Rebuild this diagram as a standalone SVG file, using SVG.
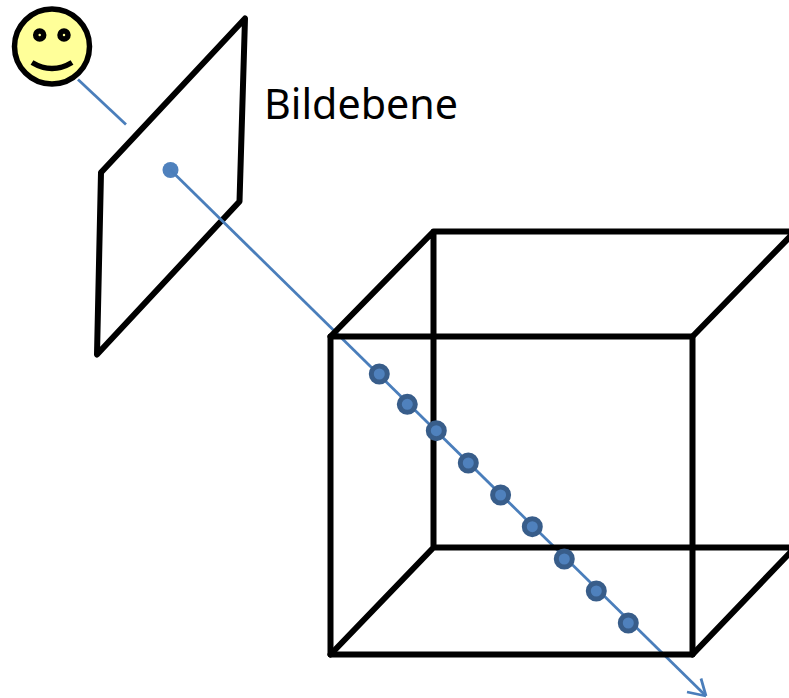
<svg xmlns="http://www.w3.org/2000/svg" width="789" height="698" viewBox="0 0 789 698">
<style>
.k{fill:none;stroke:#000;stroke-width:6;stroke-linejoin:round;stroke-linecap:round}
.b{fill:none;stroke:#4a7ebb;stroke-width:2.75}
.p{fill:#4f81bd;stroke:#385d8a;stroke-width:5}
text{font-family:"Noto Sans","Open Sans","Liberation Sans",sans-serif;font-size:42px;fill:#000}
</style>
<rect width="789" height="698" fill="#fff"/>
<g id="smiley">
<circle cx="52" cy="46.500" r="37.500" fill="#ffff99" stroke="#000" stroke-width="5.500"/>
<circle cx="39.700" cy="35" r="4" fill="#ffff99" stroke="#000" stroke-width="5.500"/>
<circle cx="64" cy="35" r="4" fill="#ffff99" stroke="#000" stroke-width="5.500"/>
<path d="M32 62.500Q52 74.500 72 62.500" fill="none" stroke="#000" stroke-width="5.500"/>
</g>
<g id="bildebene">
<path class="k" d="M245 18.500L239.500 201.500L97 354.500L101 172.500Z"/>
<text x="264" y="119" textLength="194" lengthAdjust="spacingAndGlyphs">Bildebene</text>
</g>
<g id="connectors">
<path class="b" d="M78 79.500L126 124.500"/>
<circle cx="170.500" cy="170" r="8" fill="#4f81bd"/>
<path class="b" d="M170.500 170L706 696"/>
<path d="M706 696L701 678.500M706 696L687 692" fill="none" stroke="#4a7ebb" stroke-width="2.750"/>
</g>
<g id="cube">
<rect class="k" x="330.500" y="336.500" width="362" height="318"/>
<path class="k" d="M330.500 336.500L433.500 231.500L795 231.500M692.500 336.500L795 231.500M330.500 654.500L433.500 547.500L795 547.500M692.500 654.500L795 547.500M433.500 231.500L433.500 547.500"/>
</g>
<g id="points">
<circle class="p" cx="379.300" cy="374" r="8"/>
<circle class="p" cx="407.300" cy="404.300" r="8"/>
<circle class="p" cx="436.300" cy="430.700" r="8"/>
<circle class="p" cx="468.300" cy="463" r="8"/>
<circle class="p" cx="500.600" cy="495" r="8"/>
<circle class="p" cx="532.300" cy="526.700" r="8"/>
<circle class="p" cx="564.300" cy="559" r="8"/>
<circle class="p" cx="596.300" cy="591" r="8"/>
<circle class="p" cx="628.300" cy="623" r="8"/>
</g>
</svg>
